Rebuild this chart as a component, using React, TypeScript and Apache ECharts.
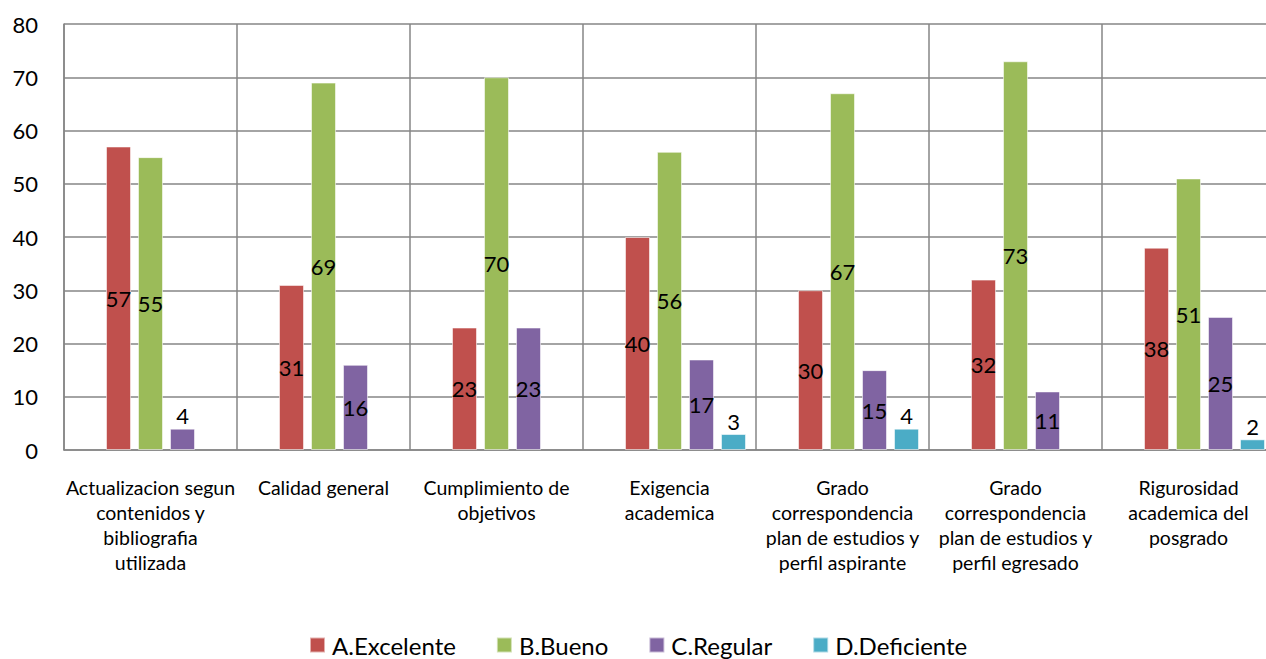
import React, { useEffect, useRef } from "react";
import * as echarts from "echarts";

const categories = [
  "Actualizacion segun\ncontenidos y\nbibliografia\nutilizada",
  "Calidad general",
  "Cumplimiento de\nobjetivos",
  "Exigencia\nacademica",
  "Grado\ncorrespondencia\nplan de estudios y\nperfil aspirante",
  "Grado\ncorrespondencia\nplan de estudios y\nperfil egresado",
  "Rigurosidad\nacademica del\nposgrado",
];

const seriesNames = ["A.Excelente", "B.Bueno", "C.Regular", "D.Deficiente"];
const excelente = [57, 31, 23, 40, 30, 32, 38];
const bueno = [55, 69, 70, 56, 67, 73, 51];
const regular = [4, 16, 23, 17, 15, 11, 25];
const deficiente = [null, null, null, 3, 4, null, 2];
// an empty series in the workbook occupies the first slot of each group
const emptySlot = [null, null, null, null, null, null, null];

const colors = ["#C0504D", "#9BBB59", "#8064A2", "#4BACC6"];
const yTicks = { min: 0, max: 80, interval: 10 };

const FONT = "Lato, 'Noto Sans', sans-serif";

export default function App() {
  const ref = useRef<HTMLDivElement>(null);

  useEffect(() => {
    if (!ref.current) return;
    const chart = echarts.init(ref.current, null, { renderer: "svg" });

    const mkData = (vals: (number | null)[]) =>
      vals.map((v) =>
        v == null
          ? null
          : v < 5
          ? { value: v, label: { position: "top", distance: 2 } }
          : { value: v }
      );

    const valueSeries = [excelente, bueno, regular, deficiente].map((vals, i) => ({
      name: seriesNames[i],
      type: "bar",
      data: mkData(vals),
      itemStyle: {
        color: colors[i],
        borderColor: "rgba(255,255,255,0.55)",
        borderWidth: 1,
      },
      barWidth: 25,
      barGap: "28%",
      label: {
        show: true,
        position: "inside",
        color: "#000",
        fontFamily: FONT,
        fontSize: 22,
      },
    }));

    chart.setOption({
      animation: false,
      textStyle: { fontFamily: FONT },
      legend: {
        data: seriesNames,
        left: 304,
        top: 628,
        itemWidth: 15,
        itemHeight: 15,
        itemGap: 40,
        icon: "rect",
        textStyle: { fontFamily: FONT, fontSize: 24, color: "#000", padding: [0, 0, 0, 2] },
      },
      grid: { left: 64, right: 0, top: 24, bottom: 209, containLabel: false },
      xAxis: {
        type: "category",
        data: categories,
        axisLine: { show: true, lineStyle: { color: "#868686", width: 1.5 } },
        axisTick: { show: false },
        splitLine: { show: true, lineStyle: { color: "#868686", width: 1.5 } },
        axisLabel: {
          interval: 0,
          color: "#000",
          fontFamily: FONT,
          fontSize: 19.5,
          lineHeight: 25,
          margin: 25,
          align: "center",
        },
      },
      yAxis: {
        type: "value",
        min: yTicks.min,
        max: yTicks.max,
        interval: yTicks.interval,
        axisLine: { show: true, lineStyle: { color: "#868686", width: 1.5 } },
        axisTick: { show: false },
        splitLine: { show: true, lineStyle: { color: "#868686", width: 1.5 } },
        axisLabel: { color: "#000", fontFamily: FONT, fontSize: 22, margin: 26 },
      },
      series: [
        {
          name: "_empty",
          type: "bar",
          data: emptySlot,
          barWidth: 25,
          barGap: "28%",
        },
        ...valueSeries,
      ],
    });

    return () => chart.dispose();
  }, []);

  return (
    <div
      ref={ref}
      style={{ position: "fixed", left: 0, top: 0, width: 1275, height: 659, background: "#fff" }}
    />
  );
}
